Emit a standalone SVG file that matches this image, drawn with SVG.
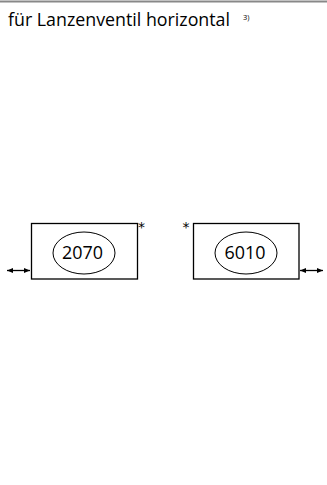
<svg xmlns="http://www.w3.org/2000/svg" width="327" height="485" viewBox="0 0 327 485">
<style>
.box{fill:#fff;stroke:#000;stroke-width:1.3}
.ell{fill:none;stroke:#000;stroke-width:1}
.num{font-family:"Open Sans","DejaVu Sans",sans-serif;font-size:18.5px;text-anchor:middle;fill:#000}
.star{font-family:"DejaVu Sans",sans-serif;font-size:14px;fill:#000;text-anchor:middle}
.con{stroke:#000;stroke-width:1.3;fill:none}
</style>
<defs>
<marker id="ah" markerWidth="6" markerHeight="5" refX="6" refY="2.5" orient="auto-start-reverse" markerUnits="userSpaceOnUse">
<path d="M0,0 L6,2.5 L0,5 z" fill="#000"/>
</marker>
</defs>
<rect width="327" height="485" fill="#fff"/>
<line x1="0" y1="1.5" x2="327" y2="1.5" stroke="#888" stroke-width="2"/>
<text x="8" y="26" font-family="Open Sans, sans-serif" font-size="17.5" textLength="222" lengthAdjust="spacingAndGlyphs" fill="#000">für Lanzenventil horizontal</text>
<text x="243" y="20" font-family="Open Sans, sans-serif" font-size="7.5" fill="#000">3)</text>
<g id="node-2070">
<rect class="box" x="31.5" y="223.5" width="106" height="55.5"/>
<ellipse class="ell" cx="84" cy="253" rx="31" ry="21"/>
<text class="num" x="82.5" y="258.5" textLength="41" lengthAdjust="spacingAndGlyphs">2070</text>
<text class="star" x="141.5" y="232">*</text>
</g>
<g id="node-6010">
<rect class="box" x="193.5" y="223.5" width="105.5" height="55.5"/>
<ellipse class="ell" cx="246" cy="253" rx="31" ry="21"/>
<text class="num" x="245" y="258.5" textLength="41" lengthAdjust="spacingAndGlyphs">6010</text>
<text class="star" x="186" y="232">*</text>
</g>
<g id="connectors">
<line class="con" x1="7" y1="270.5" x2="30" y2="270.5" marker-start="url(#ah)" marker-end="url(#ah)"/>
<line class="con" x1="300" y1="270.5" x2="323" y2="270.5" marker-start="url(#ah)" marker-end="url(#ah)"/>
</g>
</svg>
